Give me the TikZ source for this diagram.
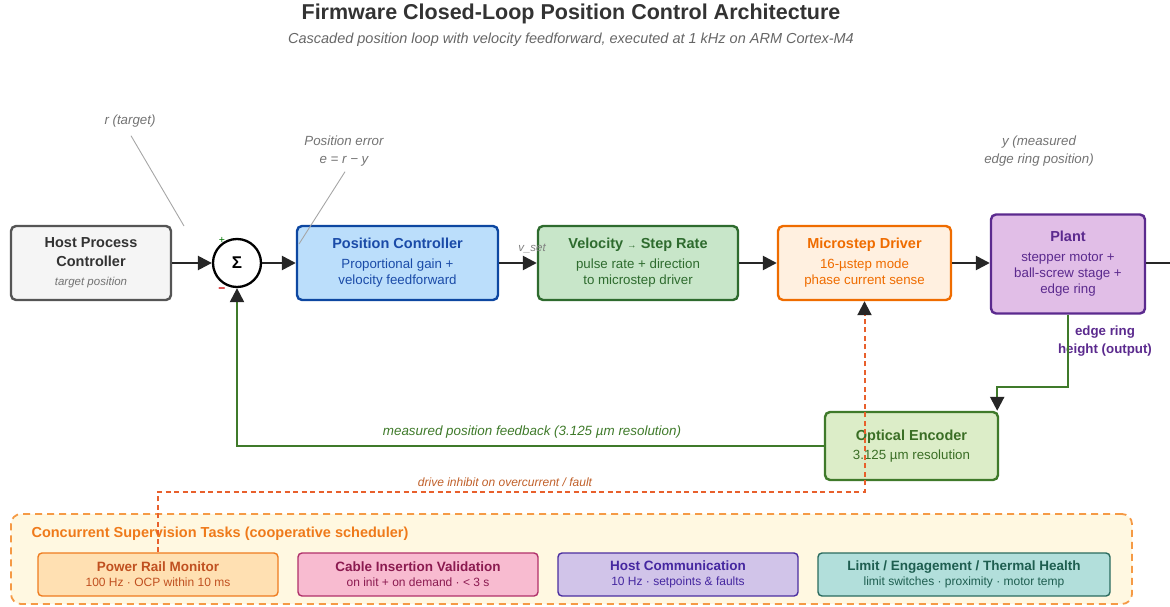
\documentclass[tikz,border=0pt]{standalone}
\usepackage{fontspec}
\setmainfont{Liberation Sans}
\usetikzlibrary{arrows.meta}

\definecolor{hostfill}{HTML}{F5F5F5}
\definecolor{hostdraw}{HTML}{555555}
\definecolor{posfill}{HTML}{BBDEFB}
\definecolor{posdraw}{HTML}{0D47A1}
\definecolor{postext}{HTML}{1A4BA8}
\definecolor{velfill}{HTML}{C8E6C9}
\definecolor{veldraw}{HTML}{2E6B2E}
\definecolor{veltext}{HTML}{2E6B2E}
\definecolor{drvfill}{HTML}{FFF0E0}
\definecolor{drvdraw}{HTML}{EF6C00}
\definecolor{drvtext}{HTML}{EF6C00}
\definecolor{plantfill}{HTML}{E1BEE7}
\definecolor{plantdraw}{HTML}{5B2A8E}
\definecolor{planttext}{HTML}{5B2A8E}
\definecolor{encfill}{HTML}{DCEDC8}
\definecolor{encdraw}{HTML}{3F7A2A}
\definecolor{enctext}{HTML}{3A6E25}
\definecolor{fbgreen}{HTML}{3F7A2A}
\definecolor{inhibit}{HTML}{E8602C}
\definecolor{inhibittext}{HTML}{C0602A}
\definecolor{supfill}{HTML}{FFF8E1}
\definecolor{supdraw}{HTML}{F59A45}
\definecolor{suptext}{HTML}{EF7A1A}
\definecolor{prmfill}{HTML}{FFE0B2}
\definecolor{prmdraw}{HTML}{EF7C1F}
\definecolor{prmtext}{HTML}{C05020}
\definecolor{civfill}{HTML}{F8BBD0}
\definecolor{civdraw}{HTML}{B0306A}
\definecolor{civtext}{HTML}{8B1A50}
\definecolor{hcfill}{HTML}{D1C4E9}
\definecolor{hcdraw}{HTML}{4A2EA0}
\definecolor{hctext}{HTML}{4527A0}
\definecolor{limfill}{HTML}{B2DFDB}
\definecolor{limdraw}{HTML}{2A6B5E}
\definecolor{limtext}{HTML}{1E5E50}

\newcommand{\blocktitle}[1]{{\bfseries\fontsize{14.5}{19}\selectfont #1}}
\newcommand{\tasktitle}[1]{{\bfseries\fontsize{13.5}{16}\selectfont #1}}

\begin{document}
\begin{tikzpicture}[x=1pt,y=-1pt,>={Triangle[length=14pt,width=14pt]}]
\tikzstyle{block}=[draw, rounded corners=5pt, line width=2.4pt, align=center, minimum height=74pt, inner sep=3pt, font=\fontsize{13.3}{16}\selectfont]
\tikzstyle{task}=[draw, rounded corners=4pt, line width=1.4pt, align=center, minimum width=240pt, minimum height=43pt, inner sep=2pt, font=\fontsize{12}{15}\selectfont]
\tikzstyle{note}=[text=black!55, font=\itshape\fontsize{13.3}{18}\selectfont, align=center]
\tikzstyle{wire}=[line width=2.5pt, draw=black!85]
\tikzstyle{fb}=[line width=2.3pt, draw=fbgreen, -{Triangle[length=14pt,width=14pt,color=black!85]}]
\tikzstyle{leader}=[draw=black!35, line width=0.9pt]

\useasboundingbox (0,0) rectangle (1170,607);

% heading
\node[text=black!80, font=\bfseries\fontsize{21.5}{24}\selectfont] (title) at (571,14) {Firmware Closed-Loop Position Control Architecture};
\node[text=black!60, font=\itshape\fontsize{14.5}{17}\selectfont] (subtitle) at (571,40) {Cascaded position loop with velocity feedforward, executed at 1 kHz on ARM Cortex-M4};

% forward path
\node[block, fill=hostfill, draw=hostdraw, minimum width=160pt, text=black!80] (host) at (91,263)
  {\blocktitle{Host Process}\\[3pt]\blocktitle{Controller}\\[3pt]{\itshape\fontsize{11.5}{13}\selectfont\color{black!55}target position}};
\node[draw, circle, line width=2.3pt, minimum size=48pt, fill=white, font=\bfseries\fontsize{17}{18}\selectfont] (sum) at (237,263) {Σ};
\node[block, fill=posfill, draw=posdraw, minimum width=201pt, text=postext] (pos) at (397.5,263)
  {\blocktitle{Position Controller}\\[4pt]Proportional gain +\\velocity feedforward};
\node[block, fill=velfill, draw=veldraw, minimum width=200pt, text=veltext] (vel) at (638,263)
  {\blocktitle{Velocity {\fontsize{9.5}{10}\selectfont →} Step Rate}\\[4pt]pulse rate + direction\\to microstep driver};
\node[block, fill=drvfill, draw=drvdraw, minimum width=173pt, text=drvtext] (drv) at (864.5,263)
  {\blocktitle{Microstep Driver}\\[4pt]16-µstep mode\\phase current sense};
\node[block, fill=plantfill, draw=plantdraw, minimum width=154pt, minimum height=99pt, text=planttext] (plant) at (1068,264)
  {\blocktitle{Plant}\\[4pt]stepper motor +\\ball-screw stage +\\edge ring};
\node[block, fill=encfill, draw=encdraw, minimum width=173pt, minimum height=68pt, text=enctext] (enc) at (911.5,446)
  {\blocktitle{Optical Encoder}\\[3pt]3.125 µm resolution};

\node[text=green!45!black, font=\fontsize{10.5}{12}\selectfont] (plus) at (222,240) {+};
\node[text=red!80!black, font=\bfseries\fontsize{12}{12}\selectfont] (minus) at (222,290) {−};

% annotations
\node[note] (rlab) at (130,121) {r (target)};
\node[note] (elab) at (344,151) {Position error\\e = r − y};
\node[note] (ylab) at (1039,151) {y (measured\\edge ring position)};
\node[text=black!50, font=\itshape\fontsize{11.5}{13}\selectfont] (vset) at (532,248) {v\_set};
\node[text=planttext, font=\bfseries\fontsize{13.3}{18}\selectfont, align=center] (outlab) at (1105,341) {edge ring\\height (output)};
\coordinate (rtip) at (184,226);
\coordinate (etip) at (299,244);
\draw[leader] ([xshift=1pt,yshift=-5pt]rlab.south) -- (rtip);
\draw[leader] ([xshift=1pt,yshift=-2pt]elab.south) -- (etip);

\draw[wire,->] (host) -- (sum);
\draw[wire,->] (sum) -- (pos);
\draw[wire,->] (pos) -- (vel);
\draw[wire,->] (vel) -- (drv);
\draw[wire,->] (drv.east) -- (plant.west |- drv.east);
\coordinate (yout) at (1172,263);
\draw[wire] (plant.east |- yout) -- (yout);

% feedback path
\coordinate (bend) at (1068,387);
\draw[fb] (plant.south) -- (bend) -| ([xshift=-2pt]enc.north east);
\draw[fb] (enc.west) -| (sum.south);
\node[text=fbgreen, font=\itshape\fontsize{13.4}{15}\selectfont] (fblab) at (532,432) {measured position feedback (3.125 µm resolution)};

% supervision tasks
\node[draw=supdraw, dashed, dash pattern=on 7pt off 5pt, line width=1.8pt, fill=supfill, rounded corners=10pt, minimum width=1121pt, minimum height=90pt] (sup) at (571.5,559) {};
\node[anchor=west, text=suptext, font=\bfseries\fontsize{14.5}{16}\selectfont] (suptitle) at (28,534) {Concurrent Supervision Tasks (cooperative scheduler)};
\node[task, fill=prmfill, draw=prmdraw, text=prmtext] (prm) at (158,574.5)
  {\tasktitle{Power Rail Monitor}\\100 Hz · OCP within 10 ms};
\node[task, fill=civfill, draw=civdraw, text=civtext] (civ) at (418,574.5)
  {\tasktitle{Cable Insertion Validation}\\on init + on demand · < 3 s};
\node[task, fill=hcfill, draw=hcdraw, text=hctext] (hc) at (678,574.5)
  {\tasktitle{Host Communication}\\10 Hz · setpoints \& faults};
\node[task, fill=limfill, draw=limdraw, text=limtext, minimum width=292pt] (lim) at (964,574.5)
  {\tasktitle{Limit / Engagement / Thermal Health}\\limit switches · proximity · motor temp};

% inhibit path
\coordinate (inh) at (158,492);
\draw[draw=inhibit, dashed, dash pattern=on 5pt off 3.5pt, line width=2pt, -{Triangle[length=14pt,width=14pt,color=black!85]}] (prm.north) -- (inh) -| (drv.south);
\node[text=inhibittext, font=\itshape\fontsize{12}{13}\selectfont] (inhlab) at (505,482) {drive inhibit on overcurrent / fault};
\end{tikzpicture}
\end{document}
